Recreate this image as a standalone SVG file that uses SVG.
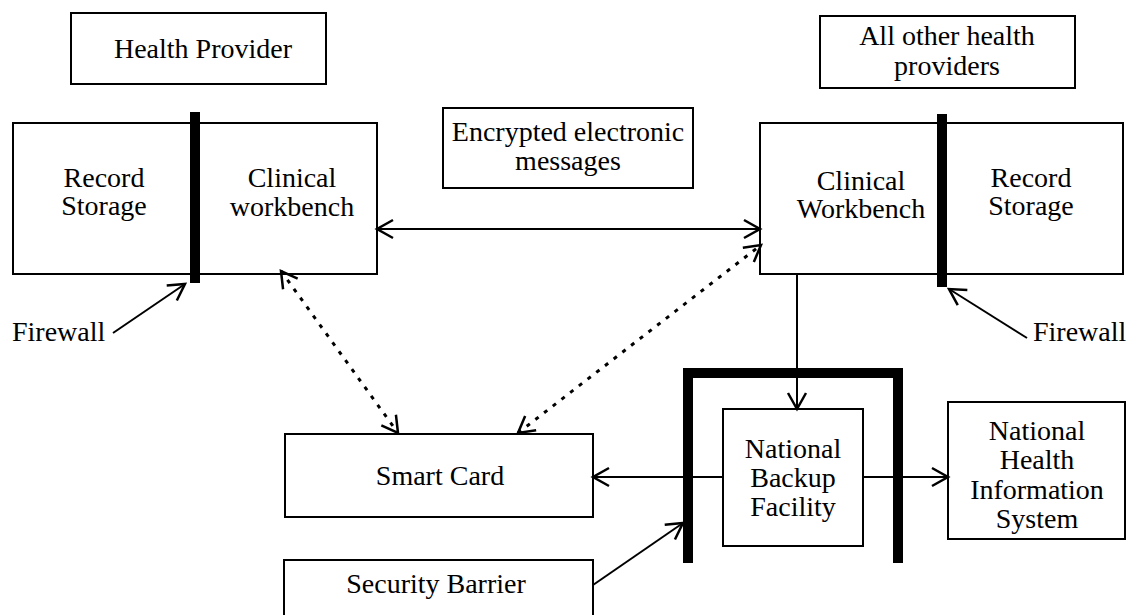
<svg xmlns="http://www.w3.org/2000/svg" width="1138" height="615" viewBox="0 0 1138 615">
<style>
.box{fill:#fff;stroke:#000;stroke-width:2}
.t{font-size:28px;fill:#000;text-anchor:middle}
.c{fill:none;stroke:#000;stroke-width:2}
.d{fill:none;stroke:#000;stroke-width:3;stroke-dasharray:4 7}
.bar{fill:#000}
</style>
<defs>
<marker id="a" markerUnits="userSpaceOnUse" markerWidth="22" markerHeight="22" refX="19" refY="11" orient="auto-start-reverse">
<path d="M3,2 L19,11 L3,20" fill="none" stroke="#000" stroke-width="2.5"/>
</marker>
</defs>
<rect width="1138" height="615" fill="#fff"/>
<g font-family="'Liberation Serif', Tinos, 'Times New Roman', Times, 'DejaVu Serif', serif">
<g id="health-provider">
<rect class="box" x="71" y="13" width="255" height="71"/>
<text class="t" x="203" y="58">Health Provider</text>
</g>
<g id="left-system">
<rect class="box" x="13" y="123" width="364" height="151"/>
<text class="t" x="104" y="187">Record</text>
<text class="t" x="104" y="215">Storage</text>
<text class="t" x="292" y="187">Clinical</text>
<text class="t" x="292" y="216">workbench</text>
<rect class="bar" x="190" y="112" width="10" height="171"/>
</g>
<g id="encrypted-messages">
<rect class="box" x="443" y="108" width="250" height="80"/>
<text class="t" x="568" y="141">Encrypted electronic</text>
<text class="t" x="568" y="170">messages</text>
</g>
<g id="other-providers">
<rect class="box" x="820" y="16" width="255" height="72"/>
<text class="t" x="947" y="45">All other health</text>
<text class="t" x="947" y="75">providers</text>
</g>
<g id="right-system">
<rect class="box" x="760" y="123" width="363" height="151"/>
<text class="t" x="861" y="190">Clinical</text>
<text class="t" x="861" y="218">Workbench</text>
<text class="t" x="1031" y="187">Record</text>
<text class="t" x="1031" y="215">Storage</text>
<rect class="bar" x="937" y="114" width="10" height="173"/>
</g>
<g id="security-barrier-wall">
<path d="M688,563 V373 H898 V563" fill="none" stroke="#000" stroke-width="10"/>
</g>
<g id="national-backup">
<rect class="box" x="723" y="409" width="140" height="137"/>
<text class="t" x="793" y="458">National</text>
<text class="t" x="793" y="487">Backup</text>
<text class="t" x="793" y="516">Facility</text>
</g>
<g id="nhis">
<rect class="box" x="948" y="402" width="177" height="137"/>
<text class="t" x="1037" y="440">National</text>
<text class="t" x="1037" y="469">Health</text>
<text class="t" x="1037" y="499">Information</text>
<text class="t" x="1037" y="528">System</text>
</g>
<g id="smart-card">
<rect class="box" x="285" y="434" width="308" height="83"/>
<text class="t" x="440" y="485">Smart Card</text>
</g>
<g id="security-barrier">
<rect class="box" x="284" y="560" width="309" height="70"/>
<text class="t" x="436" y="593">Security Barrier</text>
</g>
<g id="firewall-left">
<text class="t" x="12" y="341" text-anchor="start" style="text-anchor:start">Firewall</text>
</g>
<g id="firewall-right">
<text class="t" x="1033" y="341" text-anchor="start" style="text-anchor:start">Firewall</text>
</g>
</g>
<g id="connectors">
<line class="c" x1="377" y1="229" x2="760" y2="229" marker-start="url(#a)" marker-end="url(#a)"/>
<line class="d" x1="281" y1="271" x2="398" y2="433" marker-start="url(#a)" marker-end="url(#a)"/>
<line class="d" x1="518" y1="433" x2="761" y2="245" marker-start="url(#a)" marker-end="url(#a)"/>
<line class="c" x1="797" y1="274" x2="797" y2="409" marker-end="url(#a)"/>
<line class="c" x1="723" y1="477" x2="593" y2="477" marker-end="url(#a)"/>
<line class="c" x1="863" y1="477" x2="948" y2="477" marker-end="url(#a)"/>
<line class="c" x1="593" y1="585" x2="683" y2="523" marker-end="url(#a)"/>
<line class="c" x1="113" y1="333" x2="185" y2="284" marker-end="url(#a)"/>
<line class="c" x1="1027" y1="338" x2="949" y2="289" marker-end="url(#a)"/>
</g>
</svg>
